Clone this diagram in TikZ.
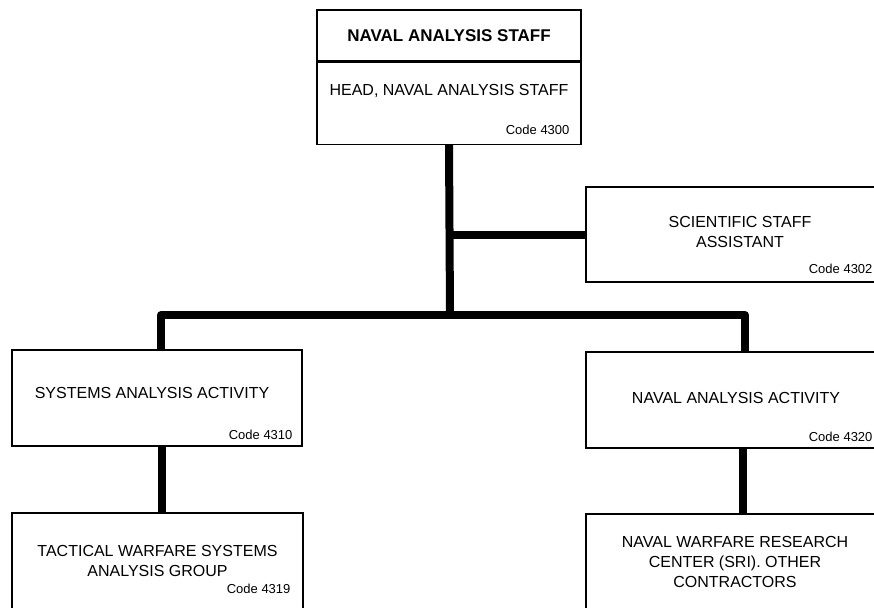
\documentclass[tikz,border=0pt]{standalone}
\usepackage{fontspec}
\setmainfont{Liberation Sans}
\usetikzlibrary{positioning,calc}

\begin{document}
\begin{tikzpicture}[x=1pt, y=-1pt,
  box/.style={draw, line width=1.3pt, inner sep=0pt},
  txt/.style={font=\fontsize{16}{20}\selectfont, align=center, inner sep=0pt},
  code/.style={font=\fontsize{13}{15}\selectfont, inner sep=0pt, anchor=east},
  conn/.style={line width=8pt, line join=round}]
\clip (0,0) rectangle (874,607);
% head of staff
\node[box, minimum width=264pt, minimum height=51pt] (title) at (449,35.5) {};
\node[box, minimum width=264pt, minimum height=82pt, below=0pt of title] (head) {};
\node[txt, font=\bfseries\fontsize{17}{20}\selectfont] (titletxt) at (title.center) {NAVAL ANALYSIS STAFF};
\node[txt] (headtxt) at ([yshift=12pt]head.center) {HEAD, NAVAL ANALYSIS STAFF};
\node[code] (headcode) at ([xshift=-12pt, yshift=15pt]head.south east) {Code 4300};
% staff assistant
\node[box, minimum width=308pt, minimum height=95pt] (sci) at (740,234.5) {};
\node[txt] (scitxt) at ([yshift=2.5pt]sci.center) {SCIENTIFIC STAFF\\ASSISTANT};
\node[code] (scicode) at ([xshift=-22pt, yshift=14pt]sci.south east) {Code 4302};
% activities
\node[box, minimum width=290pt, minimum height=96pt] (sys) at (157,398) {};
\node[txt] (systxt) at ([xshift=-5pt, yshift=5pt]sys.center) {SYSTEMS ANALYSIS ACTIVITY};
\node[code] (syscode) at ([xshift=-10pt, yshift=12pt]sys.south east) {Code 4310};
\node[box, minimum width=304pt, minimum height=96pt] (naa) at (738,400) {};
\node[txt] (naatxt) at ([xshift=-2pt, yshift=2pt]naa.center) {NAVAL ANALYSIS ACTIVITY};
\node[code] (naacode) at ([xshift=-18pt, yshift=12pt]naa.south east) {Code 4320};
% groups
\node[box, minimum width=291pt, minimum height=107pt] (twsag) at (157.5,566.5) {};
\node[txt] (twsagtxt) at ([yshift=5.5pt]twsag.center) {TACTICAL WARFARE SYSTEMS\\ANALYSIS GROUP};
\node[code] (twsagcode) at ([xshift=-13pt, yshift=32pt]twsag.south east) {Code 4319};
\node[box, minimum width=304pt, minimum height=106pt] (nwrc) at (738,567) {};
\node[txt] (nwrctxt) at ([xshift=-3pt, yshift=5.5pt]nwrc.center) {NAVAL WARFARE RESEARCH\\CENTER (SRI). OTHER\\CONTRACTORS};
% connectors
\coordinate (bus) at (450,315);
\draw[conn] (head.south) -- (bus);
\draw[conn] (head.south |- sci.west) -- (sci.west);
\draw[conn] ([xshift=4pt]sys.north) |- (bus) -| ([xshift=7pt]naa.north);
\draw[conn] ([xshift=5pt]sys.south) -- ([xshift=5pt]sys.south |- twsag.north);
\draw[conn] ([xshift=5pt]naa.south) -- ([xshift=5pt]naa.south |- nwrc.north);
\end{tikzpicture}
\end{document}
